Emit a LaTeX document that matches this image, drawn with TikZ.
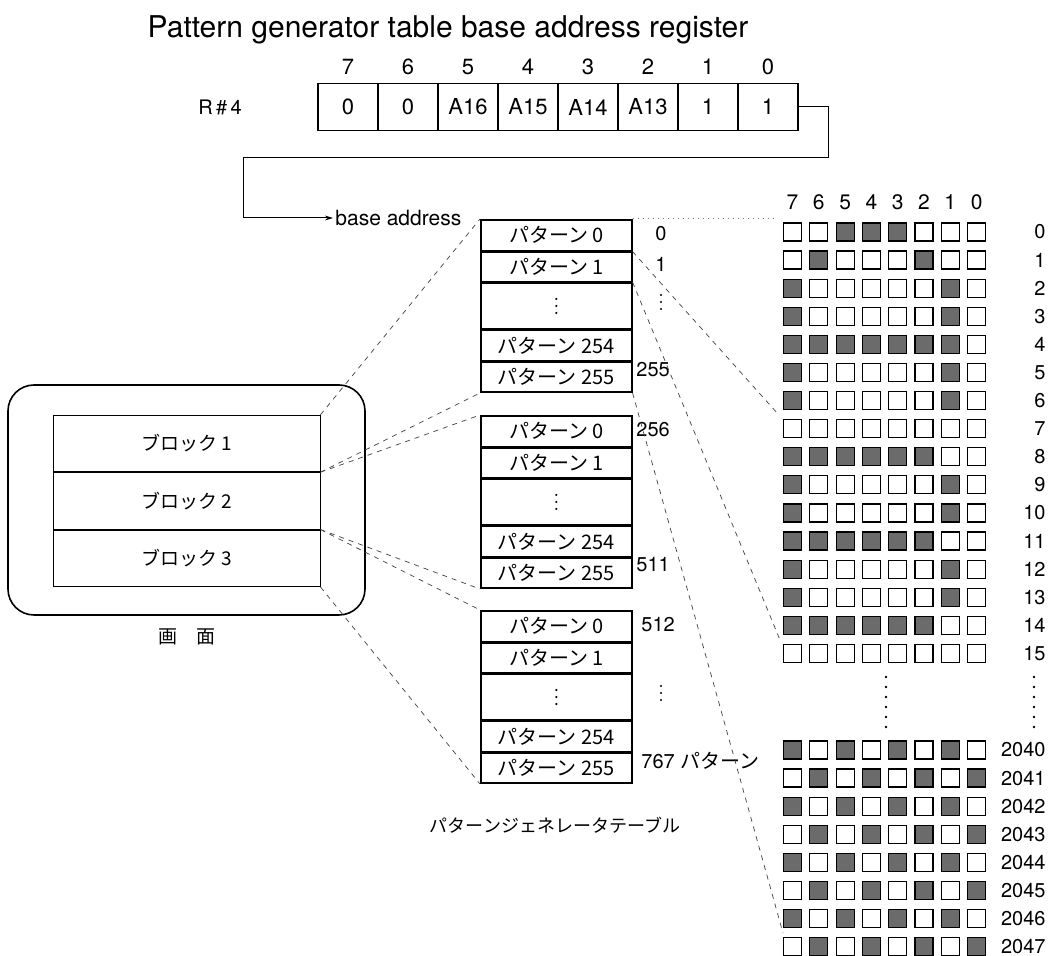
\documentclass[tikz,border=0pt]{standalone}
\usepackage{fontspec}
\setmainfont{TeX Gyre Heros}
\newfontfamily\jp{Noto Sans CJK JP}
\usetikzlibrary{positioning,arrows.meta}
\definecolor{dotgray}{gray}{0.42}
\colorlet{pix0}{white}
\colorlet{pix1}{dotgray}
\tikzset{
  regbox/.style={draw, line width=0.7pt, minimum width=30pt, minimum height=23.5pt, inner sep=0pt, font=\fontsize{11}{13}\selectfont},
  cell/.style={draw, line width=0.8pt, minimum width=75.5pt, inner sep=0pt, font=\jp\fontsize{10}{12}\selectfont},
  blockrow/.style={draw, line width=0.5pt, minimum width=133.5pt, minimum height=28.2pt, inner sep=0pt, font=\jp\fontsize{9.5}{11}\selectfont},
  pixel/.style={draw, line width=0.6pt, minimum size=9pt, inner sep=0pt},
  addr/.style={font=\fontsize{10}{12}\selectfont, inner sep=0pt},
  link/.style={dash pattern=on 2.5pt off 2.5pt, line width=0.35pt, black!75},
}
\newcommand\threedots[1]{\foreach \k in {-1,0,1} \fill (#1) ++(0,7*\k) circle (0.6pt);}
\begin{document}
\begin{tikzpicture}[x=0.5pt,y=-0.5pt]
\useasboundingbox (0,0) rectangle (1051,956);

\node (title) at (448,30) {\fontsize{15}{17}\selectfont Pattern generator table base address register};

% register R#4
\node[font=\fontsize{10}{12}\selectfont] (rname) at (220,107) {R\,\#\,4};
\foreach \v [count=\i from 0] in {0,0,A16,A15,A14,A13,1,1} {
  \pgfmathtruncatemacro\bit{7-\i}
  \node[regbox] (reg\i) at (348+60*\i,107) {\v};
  \node[font=\fontsize{11}{13}\selectfont, above=0.5pt of reg\i] (bit\i) {\bit};
}
\node[anchor=west, font=\fontsize{10.5}{12}\selectfont, inner sep=1pt] (base) at (333,218) {base address};
\draw[line width=0.5pt, -{Stealth[length=4pt,width=2.4pt]}] (reg7.east) -- ++(30,0) |- (243,158) |- (base.west);

% screen
\node[draw, line width=0.8pt, rounded corners=13pt, minimum width=178.5pt, minimum height=115pt] (screen) at (186.5,500) {};
\node[blockrow] (blk1) at (186.5,443.5) {ブロック 1};
\node[blockrow, below=0pt of blk1] (blk2) {ブロック 2};
\node[blockrow, below=0pt of blk2] (blk3) {ブロック 3};
\node[font=\jp\fontsize{9.5}{11}\selectfont] (scrlabel) at (187,637) {画\hspace{1em}面};

% pattern generator table
\foreach \b/\top in {1/219,2/415,3/610} {
  \node[cell, minimum height=15.5pt, anchor=north west] (b\b r0) at (480,\top) {パターン 0};
  \node[cell, minimum height=14.5pt, below=0pt of b\b r0] (b\b r1) {パターン 1};
  \node[cell, minimum height=23pt, below=0pt of b\b r1] (b\b dots) {};
  \node[cell, minimum height=15pt, below=0pt of b\b dots] (b\b r254) {パターン 254};
  \node[cell, minimum height=15pt, below=0pt of b\b r254] (b\b r255) {パターン 255};
  \threedots{b\b dots.center}
}
\node[addr] (a0) at (661,234) {0};
\node[addr] (a1) at (661,264) {1};
\coordinate (adots1) at (661,302);
\node[addr, anchor=west] (a255) at (636,370) {255};
\node[addr, anchor=west] (a256) at (636,430) {256};
\node[addr, anchor=west] (a511) at (636,565) {511};
\node[addr, anchor=west] (a512) at (641,625) {512};
\coordinate (adots3) at (661,693);
\node[addr, anchor=west] (a767) at (641,761) {767 {\jp パターン}};
\threedots{adots1}
\threedots{adots3}
\node[font=\jp\fontsize{9}{11}\selectfont] (pgt) at (555,825) {パターンジェネレータテーブル};

% pattern bits
\foreach \c in {0,...,7} {
  \pgfmathtruncatemacro\bit{7-\c}
  \node[font=\fontsize{10.5}{12}\selectfont] (col\c) at (792.5+26.3*\c,202) {\bit};
}
\foreach \bits [count=\r from 0] in {
  {0,0,1,1,1,0,0,0},{0,1,0,0,0,1,0,0},{1,0,0,0,0,0,1,0},{1,0,0,0,0,0,1,0},
  {1,1,1,1,1,1,1,0},{1,0,0,0,0,0,1,0},{1,0,0,0,0,0,1,0},{0,0,0,0,0,0,0,0},
  {1,1,1,1,1,1,0,0},{1,0,0,0,0,0,1,0},{1,0,0,0,0,0,1,0},{1,1,1,1,1,1,0,0},
  {1,0,0,0,0,0,1,0},{1,0,0,0,0,0,1,0},{1,1,1,1,1,1,0,0},{0,0,0,0,0,0,0,0}} {
  \pgfmathsetmacro\y{232+28.1*\r}
  \foreach \b [count=\c from 0] in \bits
    \node[pixel, fill=pix\b] (g\r-\c) at (792.5+26.3*\c,\y) {};
  \node[addr, anchor=east] (lab\r) at (1046,\y) {\r};
}
\foreach \bits [count=\r from 0] in {
  {1,0,1,0,1,0,1,0},{0,1,0,1,0,1,0,1},{1,0,1,0,1,0,1,0},{0,1,0,1,0,1,0,1},
  {1,0,1,0,1,0,1,0},{0,1,0,1,0,1,0,1},{1,0,1,0,1,0,1,0},{0,1,0,1,0,1,0,1}} {
  \pgfmathsetmacro\y{750+28.1*\r}
  \pgfmathtruncatemacro\n{2040+\r}
  \foreach \b [count=\c from 0] in \bits
    \node[pixel, fill=pix\b] (h\r-\c) at (792.5+26.3*\c,\y) {};
  \node[addr, anchor=east] (lab\n) at (1046,\y) {\n};
}
\foreach \k in {0,...,5} {
  \fill (886,677+10*\k) circle (0.7pt);
  \fill (1034,677+10*\k) circle (0.7pt);
}

% connectors
\coordinate (gtop) at (775,219);
\coordinate (g7) at (778,414);
\coordinate (g15) at (780,640);
\coordinate (g2047) at (783,933);
\draw[link] (blk1.north east) -- (b1r0.north west);
\draw[link] (blk1.south east) -- (b1r255.south west);
\draw[link] (blk2.north east) -- (b2r0.north west);
\draw[link] (blk2.south east) -- (b2r255.south west);
\draw[link] (blk3.north east) -- (b3r0.north west);
\draw[link] (blk3.south east) -- (b3r255.south west);
\draw[dotted, line width=0.5pt, black!55] (b1r0.north east) -- (gtop);
\draw[link] (b1r0.south east) -- (g7);
\draw[link] (b1r1.south east) -- (g15);
\draw[link] (b1r255.south east) -- (g2047);
\end{tikzpicture}
\end{document}
